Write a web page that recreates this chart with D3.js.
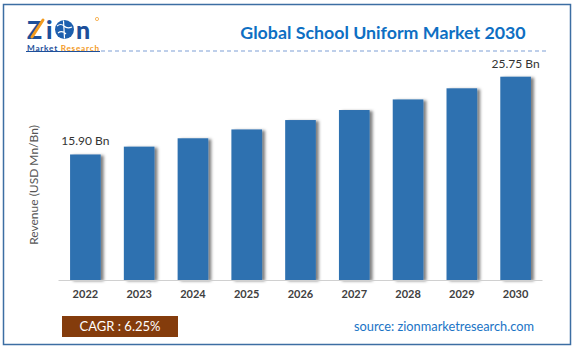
<!DOCTYPE html>
<html>
<head>
<meta charset="utf-8">
<script src="https://cdn.jsdelivr.net/npm/d3@7"></script>
<style>
	body { margin: 0; background: #ffffff; }
	svg { display: block; font-family: Lato, "Open Sans", sans-serif; }
</style>
</head>
<body>
<div id="chart"></div>
<script>
// # **School uniform bar chart**
// a plain d3 bar chart with a framed panel, logo, title and footer

// chart data
var years = ["2022", "2023", "2024", "2025", "2026", "2027", "2028", "2029", "2030"];
var revenue = [15.90, 16.89, 17.95, 19.07, 20.26, 21.53, 22.87, 24.28, 25.75];
var value_labels = ["15.90 Bn", "", "", "", "", "", "", "", "25.75 Bn"];
var title_text = "Global School Uniform Market 2030";
var y_title = "Revenue (USD Mn/Bn)";
var cagr_text = "CAGR : 6.25%";
var source_text = "source: zionmarketresearch.com";

var width = 576, height = 354;
var bar_color = "#2f71b0";
var title_color = "#0e6fc3";
var logo_blue = "#1d4f9a";
var logo_orange = "#f39a1e";

var svg = d3.select("#chart").append("svg")
	.attr("width", width)
	.attr("height", height);

// ### shadow filter for the bars
var defs = svg.append("defs");
defs.append("filter").attr("id", "bar_shadow")
	.attr("x", "-20%").attr("y", "-5%").attr("width", "160%").attr("height", "110%")
	.append("feDropShadow")
	.attr("dx", 3).attr("dy", 1)
	.attr("stdDeviation", 1.6)
	.attr("flood-color", "#000000")
	.attr("flood-opacity", 0.5);

// ### scales
var x = d3.scaleBand()
	.domain(years)
	.range([58.5, 542.5])
	.paddingInner(0.43)
	.paddingOuter(0.215);

var y = d3.scaleLinear()
	.domain([0, d3.max(revenue)])
	.range([280, 76.7]);

// ### outer frame
svg.append("rect")
	.attr("x", 3.5).attr("y", 4.5)
	.attr("width", 567).attr("height", 340)
	.attr("fill", "none")
	.attr("stroke", "#3c6ea3")
	.attr("stroke-width", 1.5);

// ### logo
var logo = svg.append("g").attr("class", "logo");
logo.append("text")
	.attr("x", 27).attr("y", 38.5)
	.attr("font-size", 25).attr("font-weight", 900)
	.attr("fill", logo_blue)
	.text("Z");
logo.append("text")
	.attr("x", 46).attr("y", 38.5)
	.attr("font-size", 25).attr("font-weight", 900)
	.attr("fill", logo_blue)
	.text("i");
// orange slash through the Z
logo.append("path")
	.attr("d", "M32,37 L43,20")
	.attr("stroke", logo_orange).attr("stroke-width", 3).attr("stroke-linecap", "round");
// the globe in place of the o
logo.append("circle")
	.attr("cx", 64.5).attr("cy", 29.5).attr("r", 9.5)
	.attr("fill", "#1d5fae");
logo.append("path")
	.attr("d", "M57,26 Q61,23 64,26 T72,27 M58,33 Q62,30 66,34 M63.5,20.5 L64.5,38.5")
	.attr("fill", "none").attr("stroke", "#ffffff").attr("stroke-width", 1.2);
logo.append("text")
	.attr("x", 76).attr("y", 38.5)
	.attr("font-size", 25).attr("font-weight", 900)
	.attr("fill", logo_blue)
	.text("n");
logo.append("circle")
	.attr("cx", 97).attr("cy", 19).attr("r", 1.6)
	.attr("fill", "none").attr("stroke", logo_orange).attr("stroke-width", 0.7);

var sub = logo.append("text")
	.attr("x", 27).attr("y", 50.5)
	.attr("font-size", 8.2).attr("font-weight", 700)
	.attr("textLength", 72)
	.attr("lengthAdjust", "spacing");
sub.append("tspan").attr("fill", logo_blue).text("Market ");
sub.append("tspan").attr("fill", logo_orange).text("Research");
logo.append("line")
	.attr("x1", 26).attr("x2", 100).attr("y1", 51.5).attr("y2", 51.5)
	.attr("stroke", logo_blue).attr("stroke-width", 1);

// dashed rule under the header
svg.append("line")
	.attr("x1", 101).attr("x2", 548)
	.attr("y1", 51).attr("y2", 51)
	.attr("stroke", "#7f9fd6")
	.attr("stroke-width", 1.2)
	.attr("stroke-dasharray", "4,3");

// ### title
svg.append("text")
	.attr("x", 383).attr("y", 39)
	.attr("text-anchor", "middle")
	.attr("font-size", 17.8).attr("font-weight", 700)
	.attr("fill", title_color)
	.text(title_text);

// ### y axis title
svg.append("text")
	.attr("transform", "translate(38,185) rotate(-90)")
	.attr("text-anchor", "middle")
	.attr("font-size", 12)
	.attr("fill", "#555555")
	.text(y_title);

// ### bars
var data = years.map(function(d, i){ return {year: d, value: revenue[i], label: value_labels[i]}; });

svg.append("g").selectAll("rect")
	.data(data).enter().append("rect")
	.attr("x", function(d){ return x(d.year); })
	.attr("y", function(d){ return y(d.value); })
	.attr("width", x.bandwidth())
	.attr("height", function(d){ return y(0) - y(d.value); })
	.attr("fill", bar_color)
	.attr("filter", "url(#bar_shadow)");

// value labels on the first and last bar
svg.append("g").selectAll("text")
	.data(data.filter(function(d){ return d.label !== ""; })).enter().append("text")
	.attr("x", function(d){ return x(d.year) + x.bandwidth() / 2; })
	.attr("y", function(d){ return y(d.value) - 9; })
	.attr("text-anchor", "middle")
	.attr("font-size", 12)
	.attr("fill", "#333333")
	.text(function(d){ return d.label; });

// ### x axis
var x_axis = svg.append("g")
	.attr("transform", "translate(0,280.5)")
	.call(d3.axisBottom(x).tickSize(0).tickPadding(10));
x_axis.select(".domain").attr("stroke", "#d0d0d0").attr("d", "M58.5,0H542.5");
x_axis.selectAll("text")
	.attr("font-family", "Lato, sans-serif")
	.attr("font-size", 11).attr("font-weight", 700)
	.attr("fill", "#404040");

// ### footer
svg.append("rect")
	.attr("x", 62).attr("y", 316)
	.attr("width", 116).attr("height", 21)
	.attr("fill", "#843c0c");
svg.append("text")
	.attr("x", 120).attr("y", 331)
	.attr("text-anchor", "middle")
	.attr("font-size", 13)
	.attr("fill", "#ffffff")
	.text(cagr_text);

svg.append("text")
	.attr("x", 534).attr("y", 331)
	.attr("text-anchor", "end")
	.attr("font-size", 12.8)
	.attr("fill", "#1a74c6")
	.text(source_text);
</script>
</body>
</html>
